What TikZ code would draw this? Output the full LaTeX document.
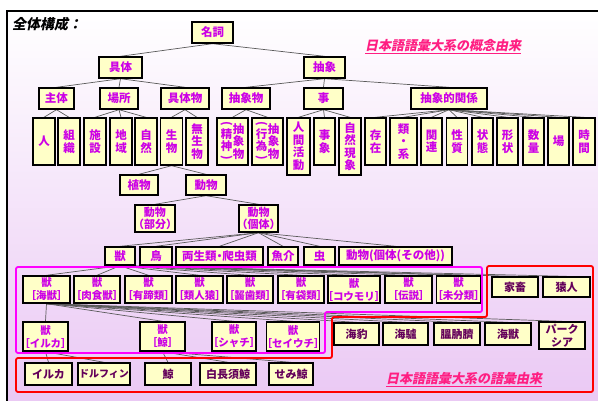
\documentclass[tikz,border=0pt]{standalone}
\usepackage{fontspec}
\newfontfamily\jp{Noto Sans CJK JP}
\newfontfamily\jpsl{Noto Sans CJK JP}[FakeSlant=0.2]
\definecolor{boxfill}{RGB}{255,255,200}
\definecolor{concept}{RGB}{204,0,230}
\definecolor{vocab}{RGB}{100,0,90}
\definecolor{linegray}{RGB}{90,90,90}
\definecolor{pinkt}{RGB}{255,30,130}
\definecolor{bgbot}{RGB}{234,200,244}
\definecolor{magline}{RGB}{255,0,255}
\definecolor{redline}{RGB}{255,0,0}
\pgfdeclarelayer{bgl}
\pgfdeclarelayer{mid}
\pgfsetlayers{bgl,mid,main}
\newcommand{\jkb}[1]{獣\\\kern-0.5em［#1］\kern-0.5em}
\newcommand{\vpar}[2]{\parbox[c]{12pt}{\centering \rotatebox[origin=c]{-90}{(}\\[-2pt]#1\\[-2pt]\rotatebox[origin=c]{-90}{)}}\parbox[c]{12pt}{\centering #2}}
\tikzset{
 bx/.style={draw=black, line width=1.4pt, fill=boxfill, text=concept, font=\jp\bfseries\fontsize{11.5}{12.5}\selectfont, inner sep=0pt, align=center, minimum height=21pt},
 tall/.style={bx, minimum height=47pt},
 kb/.style={bx, font=\jp\bfseries\fontsize{10.5}{13}\selectfont, minimum height=27pt},
 vb/.style={bx, text=vocab, font=\jp\bfseries\fontsize{11}{12.5}\selectfont, minimum height=22pt},
 ln/.style={draw=linegray, line width=0.7pt},
 note/.style={text=pinkt, font=\jpsl\bfseries\fontsize{13}{15}\selectfont},
}
\begin{document}
\begin{tikzpicture}[x=1pt,y=-1pt]
\useasboundingbox (0,0) rectangle (598,401);
\begin{pgfonlayer}{bgl}
\fill[white] (0,0) rectangle (598,401);
\shade[top color=white, bottom color=bgbot] (7,11) rectangle (601,404);
\draw[black, line width=1.5pt] (7,11) rectangle (601,404);
\end{pgfonlayer}

\node[font=\jpsl\bfseries\fontsize{14}{16}\selectfont, anchor=west, inner sep=0pt] (title) at (12,24) {全体構成：};
\node[note] (n1) at (443,47) {\underline{日本語語彙大系の概念由来}};
\node[note] (n2) at (464,380) {\underline{日本語語彙大系の語彙由来}};

% row 1-2
\node[bx, minimum width=41pt] (meishi) at (212.5,32.5) {名詞};
\node[bx, minimum width=43pt] (gutai) at (120.5,67.5) {具体};
\node[bx, minimum width=41pt] (chusho) at (324.5,67.5) {抽象};
% row 3
\node[bx, minimum width=35pt] (shutai) at (56.5,98.5) {主体};
\node[bx, minimum width=38pt] (basho) at (119,98.5) {場所};
\node[bx, minimum width=48pt] (gutaibutsu) at (185,98.5) {具体物};
\node[bx, minimum width=48pt] (chushobutsu) at (246,98.5) {抽象物};
\node[bx, minimum width=39pt] (koto) at (323.5,98.5) {事};
\node[bx, minimum width=76pt] (kankei) at (449,98.5) {抽象的関係};
% row 4
\node[tall, minimum width=22pt] (hito) at (44,141.5) {人};
\node[tall, minimum width=22pt] (soshiki) at (69,141.5) {組\\織};
\node[tall, minimum width=22pt] (shisetsu) at (95,141.5) {施\\設};
\node[tall, minimum width=22pt] (chiiki) at (121,141.5) {地\\域};
\node[tall, minimum width=22pt] (shizen) at (146,141.5) {自\\然};
\node[tall, minimum width=22pt] (seibutsu) at (171.5,141.5) {生\\物};
\node[tall, minimum width=22pt] (museibutsu) at (197,141.5) {無\\生\\物};
\node[tall, minimum width=31pt] (seishin) at (232.5,141.5) {\vpar{精\\神}{抽\\象\\物}};
\node[tall, minimum width=31pt] (koui) at (267.5,141.5) {\vpar{行\\為}{抽\\象\\物}};
\node[tall, minimum width=23pt, minimum height=57pt] (ningen) at (298.5,146.5) {人\\間\\活\\動};
\node[tall, minimum width=21pt] (jishou) at (324.5,141.5) {事\\象};
\node[tall, minimum width=22pt, minimum height=57pt] (shizengen) at (350,146.5) {自\\然\\現\\象};
\node[tall, minimum width=21pt] (sonzai) at (375.5,141.5) {存\\在};
\node[tall, minimum width=27pt] (rui) at (403.5,141.5) {類\\・\\系};
\node[tall, minimum width=21pt] (kanren) at (431.5,141.5) {関\\連};
\node[tall, minimum width=21pt] (seishitsu) at (457,141.5) {性\\質};
\node[tall, minimum width=21pt] (joutai) at (482.5,141.5) {状\\態};
\node[tall, minimum width=21pt] (keijou) at (507.5,141.5) {形\\状};
\node[tall, minimum width=21pt] (suuryou) at (533.5,141.5) {数\\量};
\node[tall, minimum width=21pt] (ba) at (558.5,141.5) {場};
\node[tall, minimum width=22pt] (jikan) at (584,141.5) {時\\間};
% row 5-6
\node[bx, minimum width=38pt, minimum height=20pt] (shokubutsu) at (139,185) {植物};
\node[bx, minimum width=40pt, minimum height=20pt] (doubutsu) at (206,185) {動物};
\node[bx, minimum width=40pt, minimum height=27pt, font=\jp\bfseries\fontsize{11}{12.5}\selectfont] (bubun) at (155,218.5) {動物\\\kern-0.4em（部分）\kern-0.4em};
\node[bx, minimum width=39pt, minimum height=27pt, font=\jp\bfseries\fontsize{11}{12.5}\selectfont] (kotai) at (258.5,218.5) {動物\\\kern-0.4em（個体）\kern-0.4em};
% row 7
\node[bx, minimum width=30pt, minimum height=18pt] (kemono) at (120,256) {獣};
\node[bx, minimum width=32pt, minimum height=18pt] (tori) at (156,256) {鳥};
\node[bx, minimum width=87pt, minimum height=18pt] (ryousei) at (219.5,256) {両生類\kern-0.25em・\kern-0.25em爬虫類};
\node[bx, minimum width=30pt, minimum height=18pt] (gyokai) at (283,256) {魚介};
\node[bx, minimum width=31pt, minimum height=18pt] (mushi) at (319.5,256) {虫};
\node[bx, minimum width=113pt, minimum height=18pt] (sonota) at (395.5,256) {動物(個体(その他))};
% row 8
\node[kb, minimum width=47pt] (kaijuu) at (46.5,289.5) {\jkb{海獣}};
\node[kb, minimum width=46pt] (nikushoku) at (97,289.5) {\jkb{肉食獣}};
\node[kb, minimum width=47pt] (yuutei) at (148.5,289.5) {\jkb{有蹄類}};
\node[kb, minimum width=47pt] (ruijin) at (199.5,289.5) {\jkb{類人猿}};
\node[kb, minimum width=46pt] (gesshi) at (250,289.5) {\jkb{齧歯類}};
\node[kb, minimum width=46pt] (yuutai) at (301,289.5) {\jkb{有袋類}};
\node[kb, minimum width=50pt] (koumori) at (354,289.5) {\jkb{コウモリ}};
\node[kb, minimum width=47pt] (densetsu) at (408.5,289.5) {\jkb{伝説}};
\node[kb, minimum width=44pt] (mibunrui) at (458.5,289.5) {\jkb{未分類}};
\node[vb, minimum width=46pt, minimum height=20pt] (kachiku) at (515,287) {家畜};
\node[vb, minimum width=47pt, minimum height=20pt] (enjin) at (566.5,287) {猿人};
% row 9
\node[kb, minimum width=45pt, minimum height=29pt] (irukak) at (45.5,336.5) {\jkb{イルカ}};
\node[kb, minimum width=45pt, minimum height=29pt] (kujirak) at (162.5,336.5) {\jkb{鯨}};
\node[kb, minimum width=44pt, minimum height=29pt] (shachi) at (234,336.5) {\jkb{シャチ}};
\node[kb, minimum width=48pt, minimum height=29pt] (seiuchi) at (293,336.5) {\jkb{セイウチ}};
\node[vb, minimum width=45pt] (azarashi) at (356.5,334) {海豹};
\node[vb, minimum width=45pt] (ashika) at (405.5,334) {海驢};
\node[vb, minimum width=46pt] (ottosei) at (457,334) {膃肭臍};
\node[vb, minimum width=46pt] (kaijuuv) at (508,334) {海獣};
\node[vb, minimum width=46pt, minimum height=27pt] (pakushia) at (562,335.5) {パーク\\シア};
% row 10
\node[vb, minimum width=47pt] (iruka) at (48.5,374) {イルカ};
\node[vb, minimum width=52pt, font=\jp\bfseries\fontsize{10}{12}\selectfont] (dolphin) at (104,374) {ドルフィン};
\node[vb, minimum width=46pt] (kujira) at (168,374) {鯨};
\node[vb, minimum width=56pt] (shironagasu) at (228,374) {白長須鯨};
\node[vb, minimum width=44pt] (semi) at (291,374) {せみ鯨};

\begin{pgfonlayer}{mid}
\foreach \p/\cs in {meishi/{gutai,chusho},
  gutai/{shutai,basho,gutaibutsu},
  chusho/{chushobutsu,koto,kankei},
  shutai/{hito,soshiki},
  basho/{shisetsu,chiiki,shizen},
  gutaibutsu/{seibutsu,museibutsu},
  chushobutsu/{seishin,koui},
  koto/{ningen,jishou,shizengen},
  kankei/{sonzai,rui,kanren,seishitsu,joutai,keijou,suuryou,ba,jikan},
  seibutsu/{shokubutsu,doubutsu},
  doubutsu/{bubun,kotai},
  kotai/{kemono,tori,ryousei,gyokai,mushi,sonota},
  kemono/{kaijuu,nikushoku,yuutei,ruijin,gesshi,yuutai,koumori,densetsu,mibunrui,kachiku,enjin},
  kaijuu/{irukak,kujirak,shachi,seiuchi,azarashi,ashika,ottosei,kaijuuv,pakushia},
  irukak/{iruka,dolphin},
  kujirak/{kujira,shironagasu,semi}}
  {\foreach \c in \cs {\draw[ln] (\p.south) -- (\c.north);}}
\draw[magline, line width=1.8pt, rounded corners=2pt] (16,267) -- (482,267) -- (482,312) -- (325,312) -- (325,353) -- (16,353) -- cycle;
\draw[redline, line width=1.8pt, rounded corners=2pt] (487,266) -- (593,266) -- (593,392) -- (16,392) -- (16,358) -- (332,358) -- (332,317) -- (487,317) -- cycle;
\end{pgfonlayer}
\end{tikzpicture}
\end{document}
